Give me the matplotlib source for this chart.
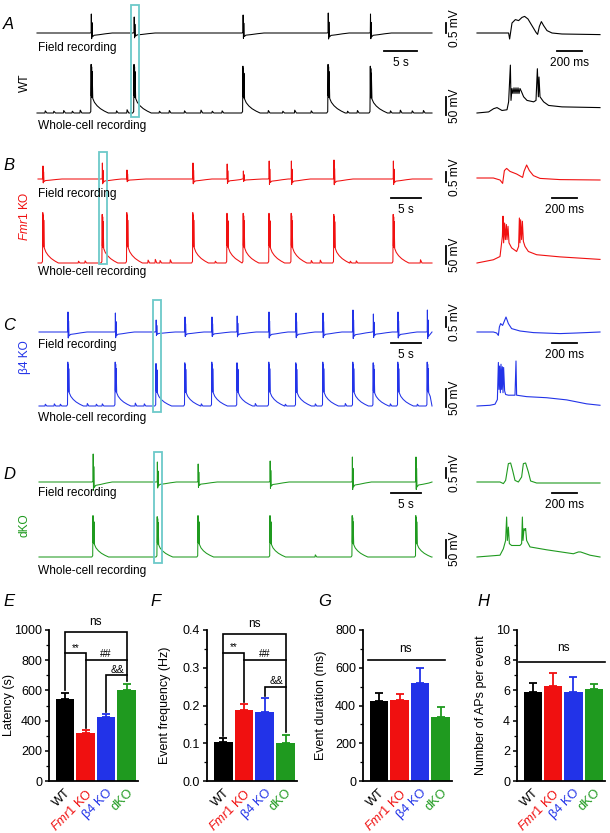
import matplotlib
matplotlib.use('Agg')
import matplotlib.pyplot as plt
import numpy as np
from matplotlib.patches import Rectangle

plt.rcParams['font.family'] = ['Liberation Sans', 'DejaVu Sans']
plt.rcParams['mathtext.fontset'] = 'custom'
plt.rcParams['mathtext.rm'] = 'Liberation Sans'
plt.rcParams['mathtext.it'] = 'Liberation Sans:italic'

W, H = 610, 833
BLACK, RED, BLUE, GREEN = '#000000', '#f01010', '#2233e8', '#1f9a1f'
CYAN = '#6cc9c9'

# ---------------- data: long traces (event times in s, amplitudes) ----------------
# shape templates (time offset s, fraction of amplitude)
FIELD_T = [-0.15, 0.0, 0.03, 0.08, 0.13, 0.2, 0.45, 1.2, 2.2, 3.2]
FIELD_V = [0.0, 0.02, 1.0, -0.3, 0.55, -0.2, -0.12, -0.09, -0.04, 0.0]
WC_T = [-0.2, -0.05, 0.0, 0.04, 0.08, 0.12, 0.16, 0.25, 0.5, 0.9, 1.4, 2.0, 2.6]
WC_V = [0.0, 0.03, 1.0, 0.35, 0.95, 0.32, 0.85, 0.3, 0.22, 0.15, 0.09, 0.04, 0.0]
MINOR_T = [0.0, 0.05, 0.3]
MINOR_V = [0.0, 1.0, 0.0]
REST = -70

a_events = [8.2, 14.7, 31.2, 44.1, 50.5]
a_field_amp = [0.95, 0.8, 0.9, 1.0, 0.95]
a_wc_amp = [135, 135, 130, 135, 130]
a_minor = [1.2, 2.5, 4.0, 5.3, 6.5, 12.0, 13.6, 18.5, 20.0, 22.3, 24.8, 26.5, 28.0,
           35.0, 37.2, 39.0, 41.5, 47.0, 48.5, 53.5, 55.0, 56.8, 58.5]
a_minor_amp = [6, 5, 7, 5, 8, 6, 9, 5, 7, 6, 8, 5, 6, 7, 5, 8, 6, 5, 7, 6, 8, 6, 7]

b_events = [0.8, 10.7, 14.8, 25.8, 31.5, 34.2, 38.5, 42.2, 49.3, 59.2]
b_field_amp = [0.65, 0.8, 0.45, 0.8, 0.75, 0.4, 0.9, 0.9, 0.95, 0.9]
b_wc_amp = [140, 135, 140, 140, 138, 138, 138, 138, 135, 135]
b_minor = [6.7, 7.8, 18.3, 19.5, 20.3, 22.0, 29.5, 40.8, 45.5, 47.0, 52.0, 53.0, 63.7]
b_minor_amp = [5, 6, 8, 10, 7, 9, 5, 6, 7, 8, 5, 6, 9]

c_events = [4.8, 12.7, 19.5, 24.3, 28.8, 33.0, 38.3, 42.8, 47.3, 52.3, 55.7, 59.8, 64.7]
c_field_amp = [1.0, 0.95, 0.6, 0.75, 0.75, 0.8, 1.0, 0.95, 0.95, 1.1, 0.9, 1.0, 1.1]
c_wc_amp = [122, 122, 118, 120, 122, 120, 122, 120, 122, 122, 120, 122, 122]
c_minor = [1.0, 2.5, 3.5, 8.0, 9.5, 10.5, 16.0, 17.5, 22.0, 27.0, 36.0, 41.0, 46.0,
           51.0, 54.5, 58.5, 63.0]
c_minor_amp = [5, 6, 5, 7, 5, 6, 8, 6, 5, 6, 7, 5, 6, 7, 8, 6, 5]

d_events = [9.0, 19.7, 26.5, 38.5, 52.2, 62.8]
d_field_amp = [1.4, 1.0, 0.9, 1.05, 1.25, 1.25]
d_wc_amp = [115, 112, 115, 115, 115, 115]
d_minor = [46.0]
d_minor_amp = [6]

# ---------------- data: expanded events (time ms, mV) ----------------
a_zf_t = [0, 253, 261, 280, 307, 333, 360, 381, 408, 427, 453, 472, 485, 499, 515, 533, 560, 600, 680, 984]
a_zf_v = [0, 0, -0.3, 0.5, 0.67, 0.62, 0.78, 0.83, 0.7, 0.5, 0.23, 0.03, -0.07, 0.33, 0.57, 0.37, 0.12, 0, -0.05, -0.08]
a_zw_t = [0, 93, 133, 160, 200, 240, 253, 267, 272, 280, 288, 296, 304, 312, 320, 328, 336, 344, 355,
          373, 400, 453, 472, 483, 491, 496, 504, 533, 573, 680, 984]
a_zw_v = [-70, -67, -58, -55, -63, -61, -39, 63, -35, -2, -16, 0, -16, 0, -16, 0, -16, -2, -10,
          -25, -35, -39, -35, 53, -25, 30, -25, -39, -49, -53, -55]

b_zf_t = [0, 131, 184, 205, 219, 237, 264, 317, 365, 376, 397, 419, 451, 504, 664, 984]
b_zf_v = [0.05, 0.05, -0.05, -0.22, 0.42, 0.53, 0.38, 0.25, 0.08, 0.38, 0.7, 0.42, 0.17, 0.03, -0.03, -0.05]
b_zw_t = [0, 131, 184, 203, 208, 213, 221, 227, 235, 240, 248, 256, 277, 317, 333, 339, 344, 349,
          357, 363, 371, 384, 411, 477, 664, 984]
b_zw_v = [-70, -61, -52, 4, 60, -14, 41, -5, 37, -5, 32, -14, -28, -38, -24, 55, -14, 50,
          -5, 46, -10, -24, -38, -47, -53, -60]

c_zf_t = [0, 131, 157, 171, 179, 189, 205, 216, 232, 251, 277, 344, 451, 664, 797, 984]
c_zf_v = [0, 0, -0.05, -0.17, 0.25, 0.42, 0.33, 0.5, 0.75, 0.42, 0.17, 0.05, -0.03, -0.08, -0.05, 0]
c_zw_t = [0, 104, 144, 163, 171, 176, 181, 187, 192, 197, 203, 208, 213, 221, 229, 251, 304, 312,
          317, 397, 557, 717, 877, 984]
c_zw_v = [-70, -68, -65, -52, 51, -24, 41, -33, 46, -24, 39, -33, 37, -28, -38, -40, -40, 55,
          -40, -44, -47, -53, -64, -68]

d_zf_t = [0, 184, 211, 229, 251, 269, 285, 304, 331, 357, 371, 389, 411, 429, 477, 664, 984]
d_zf_v = [0, 0, -0.08, 0.08, 0.92, 0.95, 0.58, 0.08, 0, 0.25, 0.92, 0.95, 0.5, 0.05, -0.05, -0.05, -0.05]
d_zw_t = [0, 184, 211, 229, 237, 243, 251, 259, 277, 344, 357, 363, 368, 376, 384, 389, 397, 424,
          557, 771, 811, 829, 904, 984]
d_zw_v = [-70, -65, -47, -24, 41, -24, 13, -33, -38, -38, -33, 41, -24, 9, 4, 9, -24, -42,
          -50, -61, -56, -56, -65, -70]

# ---------------- data: summary bars ----------------
groups = ['WT', r'$\mathit{Fmr1}$ KO', 'β4 KO', 'dKO']
group_colors = [BLACK, RED, BLUE, GREEN]
latency_mean = [545, 320, 425, 605]
latency_sem = [40, 20, 18, 40]
freq_mean = [0.102, 0.187, 0.184, 0.100]
freq_sem = [0.012, 0.018, 0.035, 0.022]
dur_mean = [426, 430, 520, 340]
dur_sem = [40, 32, 78, 52]
aps_mean = [5.9, 6.28, 5.9, 6.06]
aps_sem = [0.62, 0.9, 1.0, 0.35]

fig = plt.figure(figsize=(W / 100, H / 100), dpi=100)


def px_axes(x0, y0, x1, y1):
    return fig.add_axes([x0 / W, 1 - y1 / H, (x1 - x0) / W, (y1 - y0) / H])


def trace_axes(x0, x1, xspan, base, ppu, top, bot, rest=0.0):
    ax = px_axes(x0, top, x1, bot)
    ax.set_xlim(0, xspan)
    ax.set_ylim(rest - (bot - base) / ppu, rest + (base - top) / ppu)
    ax.axis('off')
    return ax


def build_trace(events, amps, tmpl_t, tmpl_v, minor, minor_amp, span, major_times):
    items = [(t, a, tmpl_t, tmpl_v) for t, a in zip(events, amps)]
    for t, a in zip(minor, minor_amp):
        if all(not (m - 0.4 < t < m + 2.6) for m in major_times):
            items.append((t, a, MINOR_T, MINOR_V))
    items.sort(key=lambda it: it[0])
    xs, ys = [0.0], [0.0]
    for i, (t, a, tt, vv) in enumerate(items):
        nxt = items[i + 1][0] + items[i + 1][2][0] if i + 1 < len(items) else span
        for dt, v in zip(tt, vv):
            x = t + dt
            if x <= xs[-1]:
                continue
            if x >= nxt:
                break
            xs.append(x)
            ys.append(v * a)
    xs.append(span)
    ys.append(0.0)
    return np.array(xs), np.array(ys)


FIELD_PPU = 20.0   # px per mV
WC_PPU = 0.36      # px per mV

panels = [
    dict(ev=a_events, fa=a_field_amp, wa=a_wc_amp, mi=a_minor, ma=a_minor_amp,
         zf=(a_zf_t, a_zf_v), zw=(a_zw_t, a_zw_v), color=BLACK, x0=37, pps=6.6,
         fbase=33, wbase=113, sbar=51, zbar=557, hl=1, box=(5, 117),
         letter='A', ly=24, geno='WT', gy=83, fl=48, wl=126, fbar=23, wbar=97),
    dict(ev=b_events, fa=b_field_amp, wa=b_wc_amp, mi=b_minor, ma=b_minor_amp,
         zf=(b_zf_t, b_zf_v), zw=(b_zw_t, b_zw_v), color=RED, x0=38, pps=6.0,
         fbase=179, wbase=263, sbar=198, zbar=552, hl=1, box=(152, 264),
         letter='B', ly=165, geno=r'$\mathit{Fmr1}$ KO', gy=216, fl=194, wl=272, fbar=172, wbar=246),
    dict(ev=c_events, fa=c_field_amp, wa=c_wc_amp, mi=c_minor, ma=c_minor_amp,
         zf=(c_zf_t, c_zf_v), zw=(c_zw_t, c_zw_v), color=BLUE, x0=39, pps=6.0,
         fbase=332, wbase=406, sbar=343, zbar=552, hl=2, box=(300, 412),
         letter='C', ly=325, geno='β4 KO', gy=357, fl=345, wl=418, fbar=317, wbar=389),
    dict(ev=d_events, fa=d_field_amp, wa=d_wc_amp, mi=d_minor, ma=d_minor_amp,
         zf=(d_zf_t, d_zf_v), zw=(d_zw_t, d_zw_v), color=GREEN, x0=39, pps=6.0,
         fbase=482, wbase=557, sbar=493, zbar=552, hl=1, box=(452, 563),
         letter='D', ly=474, geno='dKO', gy=525, fl=493, wl=571, fbar=468, wbar=540),
]

ov = fig.add_axes([0, 0, 1, 1], zorder=10)
ov.set_xlim(0, W)
ov.set_ylim(H, 0)
ov.axis('off')
ov.patch.set_alpha(0)

TXT = 8.6
for p in panels:
    col = p['color']
    span = (432 - p['x0']) / p['pps']
    # long field trace
    axf = trace_axes(p['x0'], 432, span, p['fbase'], FIELD_PPU, p['fbase'] - 30, p['fbase'] + 14)
    fx, fy = build_trace(p['ev'], p['fa'], FIELD_T, FIELD_V, [], [], span, p['ev'])
    axf.plot(fx, fy, color=col, lw=0.75, clip_on=False)
    # long whole-cell trace
    axw = trace_axes(p['x0'], 432, span, p['wbase'], WC_PPU, p['wbase'] - 55, p['wbase'] + 8, REST)
    wx, wy = build_trace(p['ev'], p['wa'], WC_T, WC_V, p['mi'], p['ma'], span, p['ev'])
    axw.plot(wx, REST + wy, color=col, lw=0.75, clip_on=False)
    # expanded field and whole-cell traces
    zf = trace_axes(477, 600, 984, p['fbase'], FIELD_PPU, p['fbase'] - 30, p['fbase'] + 14)
    zf.plot(p['zf'][0], p['zf'][1], color=col, lw=0.8, clip_on=False)
    zw = trace_axes(477, 600, 984, p['wbase'], WC_PPU, p['wbase'] - 55, p['wbase'] + 8, REST)
    zw.plot(p['zw'][0], p['zw'][1], color=col, lw=0.8, clip_on=False)

    # highlight box
    hx = p['x0'] + p['ev'][p['hl']] * p['pps']
    ov.add_patch(Rectangle((hx - 3.5, p['box'][0]), 8, p['box'][1] - p['box'][0],
                           fill=False, ec=CYAN, lw=1.3))
    # scale bars
    sx0 = 384 if p['letter'] == 'A' else 391
    ov.plot([sx0, sx0 + 5 * p['pps']], [p['sbar']] * 2, color='k', lw=1.3)
    ov.text(sx0 + 2.5 * p['pps'], p['sbar'] + 12, '5 s', ha='center', va='center', fontsize=TXT)
    ov.plot([p['zbar'], p['zbar'] + 200 / 8], [p['sbar']] * 2, color='k', lw=1.3)
    ov.text(p['zbar'] + 12.5, p['sbar'] + 12, '200 ms', ha='center', va='center', fontsize=TXT)
    ov.plot([446, 446], [p['fbar'], p['fbar'] + 0.5 * FIELD_PPU], color='k', lw=1.3)
    ov.text(455, p['fbar'] + 5, '0.5 mV', rotation=90, ha='center', va='center', fontsize=TXT)
    ov.plot([446, 446], [p['wbar'], p['wbar'] + 50 * WC_PPU], color='k', lw=1.3)
    ov.text(455, p['wbar'] + 9, '50 mV', rotation=90, ha='center', va='center', fontsize=TXT)
    # labels
    ov.text(38, p['fl'], 'Field recording', ha='left', va='center', fontsize=TXT)
    ov.text(38, p['wl'], 'Whole-cell recording', ha='left', va='center', fontsize=TXT)
    ov.text(3, p['ly'], p['letter'], ha='left', va='center', fontsize=12, style='italic')
    ov.text(25, p['gy'], p['geno'], rotation=90, ha='center', va='center', fontsize=TXT, color=col)

# ---------------- summary bar charts ----------------
bar_specs = [
    ('E', 3, 49, 138, latency_mean, latency_sem, 1000, 200, 100, 'Latency (s)', '{:.0f}', -0.38),
    ('F', 150, 207, 297, freq_mean, freq_sem, 0.4, 0.1, 0.05, 'Event frequency (Hz)', '{:.1f}', -0.40),
    ('G', 318, 363, 452, dur_mean, dur_sem, 800, 200, 100, 'Event duration (ms)', '{:.0f}', -0.41),
    ('H', 477, 517, 605, aps_mean, aps_sem, 10, 2, 1, 'Number of APs per event', '{:.0f}', -0.34),
]
x = np.arange(4)
axes = {}
for letter, lx, xa, xb, mean, sem, ymax, major, minor, ylabel, fmt, lblx in bar_specs:
    ax = px_axes(xa, 630, xb, 781)
    axes[letter] = ax
    ax.bar(x, mean, width=0.9, color=group_colors, zorder=2)
    for xi, m, s, c in zip(x, mean, sem, group_colors):
        ax.errorbar(xi, m, yerr=[[0], [s]], fmt='none', ecolor=c, capsize=3, elinewidth=1.3,
                    capthick=1.3, zorder=1)
    ax.set_xlim(-0.78, 3.55)
    ax.set_ylim(0, ymax)
    ticks = np.arange(0, ymax + major / 2, major)
    ax.set_yticks(ticks)
    ax.set_yticklabels([fmt.format(t) for t in ticks], fontsize=TXT + 0.4)
    ax.set_yticks(np.arange(0, ymax + minor / 2, minor), minor=True)
    ax.tick_params(axis='y', which='major', length=3, width=1.1, pad=2)
    ax.tick_params(axis='y', which='minor', length=2, width=0.9)
    ax.set_xticks(x)
    ax.set_xticklabels(groups, rotation=45, ha='right', va='top', rotation_mode='anchor',
                       fontsize=TXT + 0.6)
    for lab, c in zip(ax.get_xticklabels(), group_colors):
        lab.set_color(c)
    ax.tick_params(axis='x', length=0, pad=4)
    for side in ('top', 'right'):
        ax.spines[side].set_visible(False)
    for side in ('left', 'bottom'):
        ax.spines[side].set_linewidth(1.3)
    ax.set_ylabel(ylabel, fontsize=TXT + 0.4)
    ax.yaxis.set_label_coords(lblx, 0.5)
    ax.patch.set_alpha(0)
    ov.text(lx, 602, letter, ha='left', va='center', fontsize=12, style='italic')


def path(ax, xs, ys):
    ax.plot(xs, ys, color='k', lw=1.2, clip_on=False, solid_joinstyle='miter', zorder=3)


def label(ax, xx, yy, s, size=TXT):
    ax.text(xx, yy, s, ha='center', va='bottom', fontsize=size, clip_on=False)


ax = axes['E']
path(ax, [0, 0, 3, 3], [600, 990, 990, 660])
path(ax, [0, 1, 1], [845, 845, 350])
path(ax, [1, 3], [800, 800])
path(ax, [2, 2, 3], [455, 700, 700])
label(ax, 1.5, 1010, 'ns')
label(ax, 0.5, 850, '**', 7)
label(ax, 2.0, 805, '##', 7.5)
label(ax, 2.55, 705, '&&', 7.5)

ax = axes['F']
path(ax, [0, 0, 3, 3], [0.12, 0.39, 0.39, 0.13])
path(ax, [0, 1, 1], [0.34, 0.34, 0.21])
path(ax, [1, 3], [0.32, 0.32])
path(ax, [2, 2, 3], [0.225, 0.25, 0.25])
label(ax, 1.5, 0.4, 'ns')
label(ax, 0.5, 0.342, '**', 7)
label(ax, 2.0, 0.322, '##', 7.5)
label(ax, 2.55, 0.252, '&&', 7.5)

ax = axes['G']
path(ax, [-0.55, 3.2], [640, 640])
label(ax, 1.3, 670, 'ns')

ax = axes['H']
path(ax, [-0.7, 3.55], [7.85, 7.85])
label(ax, 1.5, 8.4, 'ns')

fig.savefig('out.png', dpi=100)
